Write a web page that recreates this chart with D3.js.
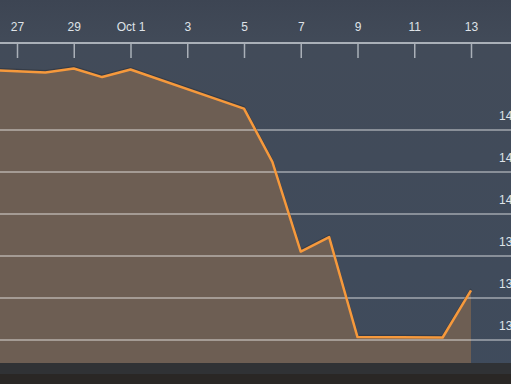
<!DOCTYPE html>
<meta charset="utf-8">
<style>
body { margin: 0; background: #414b5a; }
svg { display: block; font-family: "Open Sans", "Noto Sans", sans-serif; }
.xaxis text, .yaxis text { fill: #dfe3e8; font-size: 12px; }
.xaxis line { stroke: #aab0b8; stroke-width: 1.5px; }
.grid line { stroke: #fff; stroke-opacity: 0.38; stroke-width: 2px; }
.area { fill: #6e5f53; fill-opacity: 0.97; }
.line { fill: none; stroke: #f6993c; stroke-width: 2.5px; stroke-linejoin: round; }
</style>
<body>
<script src="https://d3js.org/d3.v7.min.js"></script>
<script>

var width = 511, height = 384;

// data (dates and closing values)
var dates = ["2015-09-26", "2015-09-28", "2015-09-29", "2015-09-30", "2015-10-01",
             "2015-10-05", "2015-10-06", "2015-10-07", "2015-10-08", "2015-10-09",
             "2015-10-12", "2015-10-13"];
var values = [146.86, 146.74, 146.93, 146.52, 146.88,
              145.02, 142.48, 138.21, 138.90, 134.14,
              134.12, 136.36];

// tick labels
var xTicks = ["2015-09-27", "2015-09-29", "2015-10-01", "2015-10-03", "2015-10-05",
              "2015-10-07", "2015-10-09", "2015-10-11", "2015-10-13"];
var yTicks = [134, 136, 138, 140, 142, 144];

var parseDate = d3.utcParse("%Y-%m-%d");
var data = dates.map(function(d, i) { return {date: parseDate(d), value: values[i]}; });

var x = d3.scaleUtc()
    .domain([parseDate("2015-09-27"), parseDate("2015-10-13")])
    .range([17, 471]);
var y = d3.scaleLinear().domain([134, 144]).range([340, 130]);

var plotBottom = 363;

var svg = d3.select("body").append("svg")
    .attr("width", width)
    .attr("height", height);

// background
var grad = svg.append("defs").append("linearGradient")
    .attr("id", "bg").attr("x1", 0).attr("x2", 0).attr("y1", 0).attr("y2", 1);
grad.append("stop").attr("offset", 0).attr("stop-color", "#3d4553");
grad.append("stop").attr("offset", 0.12).attr("stop-color", "#424b59");
grad.append("stop").attr("offset", 1).attr("stop-color", "#3f4b5c");
svg.append("rect").attr("width", width).attr("height", height).attr("fill", "url(#bg)");

// dark strip under the plot
svg.append("rect")
    .attr("y", plotBottom).attr("width", width).attr("height", height - plotBottom)
    .attr("fill", "#303235");
svg.append("rect")
    .attr("y", 374).attr("width", width).attr("height", height - 374)
    .attr("fill", "#2a2725");

// area under the line
var area = d3.area()
    .x(function(d) { return x(d.date); })
    .y0(plotBottom)
    .y1(function(d) { return y(d.value); });

svg.append("path")
    .datum(data)
    .attr("class", "area")
    .attr("d", area);

// gridlines
svg.append("g")
    .attr("class", "grid")
  .selectAll("line")
  .data(yTicks)
  .join("line")
    .attr("x1", 0)
    .attr("x2", width)
    .attr("y1", function(d) { return y(d); })
    .attr("y2", function(d) { return y(d); });

// y labels, sitting above each gridline, cut off at the right edge
svg.append("g")
    .attr("class", "yaxis")
    .attr("transform", "translate(499,0)")
    .call(d3.axisRight(y).tickValues(yTicks).tickSize(0).tickPadding(0))
    .call(function(g) { g.select(".domain").remove(); })
    .selectAll("text")
    .attr("dy", "-0.85em");

// the line
var line = d3.line()
    .x(function(d) { return x(d.date); })
    .y(function(d) { return y(d.value); });

svg.append("path")
    .datum(data)
    .attr("fill", "none")
    .attr("stroke", "#2a2e36")
    .attr("stroke-opacity", 0.5)
    .attr("stroke-width", 2)
    .attr("transform", "translate(0,-1.5)")
    .attr("d", line);

svg.append("path")
    .datum(data)
    .attr("class", "line")
    .attr("d", line);

// x axis at the top, ticks pointing down
var fmt = function(d) {
  return d.getUTCDate() === 1 ? d3.utcFormat("%b %-d")(d) : d3.utcFormat("%-d")(d);
};

svg.append("line")
    .attr("x1", 0).attr("x2", width)
    .attr("y1", 43).attr("y2", 43)
    .attr("stroke", "#aab0b8").attr("stroke-width", 2);

svg.append("g")
    .attr("class", "xaxis")
    .attr("transform", "translate(0,43)")
    .call(d3.axisTop(x)
      .tickValues(xTicks.map(parseDate))
      .tickFormat(fmt)
      .tickSizeInner(-15)
      .tickSizeOuter(0)
      .tickPadding(12))
    .call(function(g) { g.select(".domain").remove(); });

</script>
</body>
